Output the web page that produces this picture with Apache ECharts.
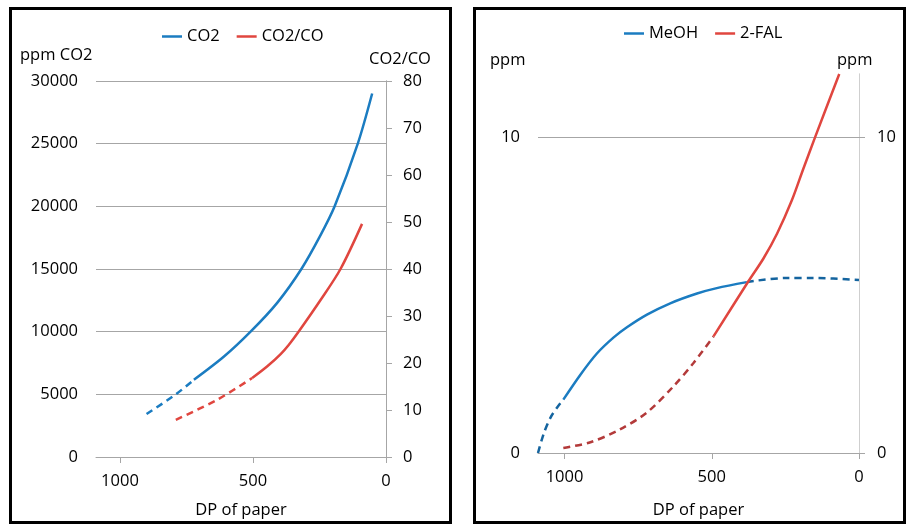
<!DOCTYPE html>
<html>
<head>
<meta charset="utf-8">
<script src="https://cdn.jsdelivr.net/npm/echarts@6/dist/echarts.min.js"></script>
<style>
html,body{margin:0;padding:0;background:#fff;}
#chart{position:absolute;left:0;top:0;width:906px;height:527px;}
.frame{position:absolute;border:3px solid #000;box-sizing:border-box;pointer-events:none;}
</style>
</head>
<body>
<div id="chart"></div>
<div class="frame" style="left:9px;top:7px;width:443px;height:517px;"></div>
<div class="frame" style="left:473px;top:7px;width:433px;height:517px;"></div>
<script>
// ---- Left panel data ----
const xTicks = [0, 500, 1000];
const co2DpSolid = [722, 609, 509, 409, 318, 246, 193, 106, 52];
const co2Solid   = [6160, 8015, 10000, 12300, 15000, 17700, 20000, 25000, 29000];
const co2DpDash  = [900, 790, 722];
const co2Dash    = [3425, 5000, 6160];
const ratioDpSolid = [503, 446, 396, 365, 328, 246, 171, 90];
const ratioSolid   = [16.8, 19.3, 21.9, 23.9, 26.7, 33.4, 40.0, 49.6];
const ratioDpDash  = [790, 634, 503];
const ratioDash    = [7.9, 12.2, 16.8];
// ---- Right panel data ----
const ppmTicks = [0, 10];
const meohDpDash1 = [1090, 1070, 1047, 1025, 1004];
const meohDash1   = [0, 0.63, 1.13, 1.44, 1.69];
const meohDpSolid = [1004, 946, 890, 833, 788, 720, 641, 550, 483, 381];
const meohSolid   = [1.69, 2.48, 3.15, 3.66, 3.98, 4.38, 4.74, 5.05, 5.22, 5.41];
const meohDpDash2 = [381, 347, 245, 155, 0];
const meohDash2   = [5.41, 5.46, 5.54, 5.54, 5.48];
const falDpDash  = [1004, 912, 813, 722, 631, 562, 494];
const falDash    = [0.16, 0.34, 0.74, 1.27, 2.1, 2.85, 3.69];
const falDpSolid = [494, 376, 325, 278, 228, 189, 149, 67];
const falSolid   = [3.69, 5.43, 6.15, 6.95, 8.0, 9.0, 10.0, 12.0];

const pairs = (xs, ys) => xs.map((x, i) => [x, ys[i]]);
const FONT = 'Open Sans';
const FS = 16.5;
const txt = {fontFamily: FONT, fontSize: FS, color: '#000'};
const axisGray = '#a6a6a6';
const lightGray = '#cfcfcf';
const BLUE = '#1b7cc1', RED = '#e0463f', DBLUE = '#14649f', DRED = '#b33a3a';
const plain = v => String(v);

function xAxisDef(gi, gap, margin) {
  return {
    gridIndex: gi, type: 'value', inverse: true, min: 0, max: 1090, interval: 500,
    axisLine: {show: true, lineStyle: {color: axisGray, width: 1}},
    axisTick: {show: true, inside: false, length: 6, customValues: xTicks, lineStyle: {color: axisGray}},
    axisLabel: Object.assign({customValues: xTicks, margin: margin, formatter: plain}, txt),
    splitLine: {show: false},
    name: 'DP of paper', nameLocation: 'middle', nameGap: gap, nameTextStyle: txt
  };
}
function line(name, xi, yi, data, color, dashed) {
  return {
    name: name, type: 'line', xAxisIndex: xi, yAxisIndex: yi, data: data,
    smooth: 0.3, symbol: 'none', showSymbol: false,
    lineStyle: {color: color, width: 2.5, type: dashed ? [7, 5] : 'solid'},
    itemStyle: {color: color}
  };
}
function title(text, x, y) {
  return {type: 'text', x: x, y: y, style: {text: text, font: FS + 'px "' + FONT + '"', fill: '#000', verticalAlign: 'middle', align: 'left'}};
}

const chart = echarts.init(document.getElementById('chart'), null, {renderer: 'canvas'});
chart.setOption({
  animation: false,
  textStyle: {fontFamily: FONT},
  legend: [
    {data: ['CO2', 'CO2/CO'], left: 157, top: 23, icon: 'rect', itemWidth: 20, itemHeight: 2.5, itemGap: 17, textStyle: txt},
    {data: ['MeOH', '2-FAL'], left: 619, top: 20, icon: 'rect', itemWidth: 20, itemHeight: 2.5, itemGap: 17, textStyle: txt}
  ],
  graphic: [
    title('ppm CO2', 20, 55),
    title('CO2/CO', 369, 59),
    title('ppm', 490, 60),
    title('ppm', 837, 60)
  ],
  grid: [
    {left: 96, top: 81, width: 290, height: 376},
    {left: 538, top: 74, width: 321, height: 379}
  ],
  xAxis: [xAxisDef(0, 45, 16), xAxisDef(1, 49, 16)],
  yAxis: [
    {gridIndex: 0, type: 'value', position: 'left', min: 0, max: 30000, interval: 5000,
     axisLine: {show: true, lineStyle: {color: axisGray}},
     axisTick: {show: true, length: 6, lineStyle: {color: axisGray}},
     axisLabel: Object.assign({margin: 18, formatter: plain}, txt),
     splitLine: {show: true, lineStyle: {color: axisGray}}},
    {gridIndex: 0, type: 'value', position: 'right', min: 0, max: 80, interval: 10,
     axisLine: {show: true, lineStyle: {color: axisGray}},
     axisTick: {show: true, length: 6, lineStyle: {color: axisGray}},
     axisLabel: Object.assign({margin: 17, formatter: plain}, txt),
     splitLine: {show: false}},
    {gridIndex: 1, type: 'value', position: 'left', min: 0, max: 12, interval: 10,
     axisLine: {show: true, lineStyle: {color: lightGray}},
     axisTick: {show: true, length: 6, customValues: ppmTicks, lineStyle: {color: axisGray}},
     axisLabel: Object.assign({margin: 18, customValues: ppmTicks, formatter: plain}, txt),
     splitLine: {show: true, lineStyle: {color: [axisGray, axisGray, lightGray]}}},
    {gridIndex: 1, type: 'value', position: 'right', min: 0, max: 12, interval: 10,
     axisLine: {show: true, lineStyle: {color: lightGray}},
     axisTick: {show: true, length: 6, customValues: ppmTicks, lineStyle: {color: axisGray}},
     axisLabel: Object.assign({margin: 18, customValues: ppmTicks, formatter: plain}, txt),
     splitLine: {show: false}}
  ],
  series: [
    line('CO2', 0, 0, pairs(co2DpSolid, co2Solid), BLUE, false),
    line('CO2', 0, 0, pairs(co2DpDash, co2Dash), BLUE, true),
    line('CO2/CO', 0, 1, pairs(ratioDpSolid, ratioSolid), RED, false),
    line('CO2/CO', 0, 1, pairs(ratioDpDash, ratioDash), RED, true),
    line('MeOH', 1, 2, pairs(meohDpSolid, meohSolid), BLUE, false),
    line('MeOH', 1, 2, pairs(meohDpDash1, meohDash1), DBLUE, true),
    line('MeOH', 1, 2, pairs(meohDpDash2, meohDash2), DBLUE, true),
    line('2-FAL', 1, 3, pairs(falDpSolid, falSolid), RED, false),
    line('2-FAL', 1, 3, pairs(falDpDash, falDash), DRED, true)
  ]
});
</script>
</body>
</html>
